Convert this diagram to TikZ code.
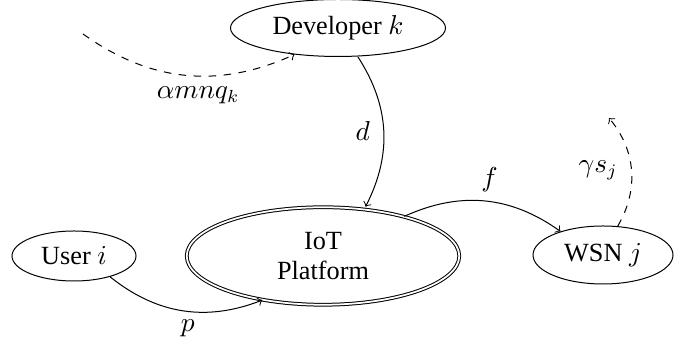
\documentclass[tikz,border=0pt]{standalone}
\usepackage{fontspec}
\setmainfont{Liberation Serif}
\usetikzlibrary{shapes.geometric}
\begin{document}
\begin{tikzpicture}[x=0.4pt,y=-0.4pt,
  ent/.style={draw, ellipse, inner sep=0pt, font=\fontsize{10.5}{12}\selectfont, align=center, line width=0.4pt},
  flow/.style={->, line width=0.4pt},
  dflow/.style={->, dashed, line width=0.4pt},
  lab/.style={font=\fontsize{10.5}{12}\selectfont}]
\useasboundingbox (0,0) rectangle (692,350);
\node[ent, minimum width=86pt, minimum height=22.8pt] (dev) at (338,28) {Developer $k$};
\node[ent, minimum width=49.6pt, minimum height=20pt] (user) at (74,256) {User $i$};
\node[ent, double, double distance=0.7pt, minimum width=109pt, minimum height=39pt] (iot) at (323,256) {IoT\\Platform};
\node[ent, minimum width=56pt, minimum height=23.2pt] (wsn) at (603,255) {WSN $j$};
\coordinate (src) at (83,34);
\coordinate (snk) at (609,118);
\draw[dflow] (src) to[bend right=30] node[lab, pos=0.5, below=1pt, xshift=5pt] {$\alpha m n q_k$} (dev);
\draw[flow] ([xshift=8pt]dev.south) to[bend left=30] node[lab, pos=0.5, left=2pt] {$d$} ([xshift=17pt]iot.north);
\draw[flow] (user.-30) to[bend right=30] node[lab, pos=0.5, below=0pt, xshift=2pt] {$p$} (iot.-144);
\draw[flow] (iot.26) to[bend left=30] node[lab, pos=0.5, above=0pt, xshift=2pt] {$f$} (wsn.151);
\draw[dflow] (wsn.63) to[bend right=35] node[lab, pos=0.5, left=2pt] {$\gamma s_j$} (snk);
\end{tikzpicture}
\end{document}
